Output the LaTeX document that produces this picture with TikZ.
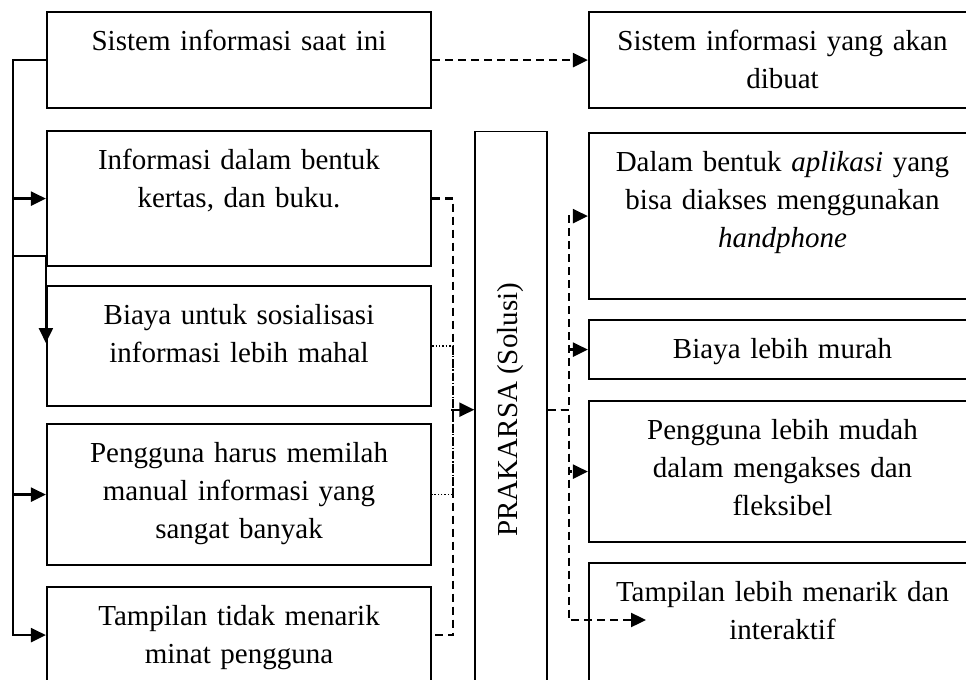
\documentclass[tikz,border=0pt]{standalone}
\usepackage{fontspec}
\setmainfont{Liberation Serif}
\usepackage{graphicx}
\usetikzlibrary{arrows.meta}

\begin{document}
\begin{tikzpicture}[x=0.5pt,y=-0.5pt,
  box/.style={draw,line width=1.1pt,anchor=north,inner sep=0pt,align=center,text height=19pt,font=\fontsize{14.5}{19}\selectfont},
  lbox/.style={box,text width=192pt},
  rbox/.style={box,text width=193.5pt},
  solbox/.style={draw,line width=0.7pt,anchor=north,inner sep=0pt,minimum width=36pt,minimum height=278pt,font=\fontsize{14.5}{19}\selectfont},
  arr/.style={line width=1.2pt,-{Triangle[length=7.5pt,width=7pt]}},
  dashln/.style={line width=1.2pt,dash pattern=on 4pt off 2.5pt},
  dotln/.style={line width=0.8pt,dash pattern=on 0.7pt off 1pt}]
\useasboundingbox (0,0) rectangle (966,680);
\clip (0,0) rectangle (966,680);
% sisi kiri
\node[lbox,text depth=29pt] (now) at (239,11) {Sistem informasi saat ini};
\node[lbox,text depth=48.5pt] (paper) at (239,130) {Informasi dalam bentuk\\kertas, dan buku.};
\node[lbox,text depth=41pt] (cost) at (239,285) {Biaya untuk sosialisasi\\informasi lebih mahal};
\node[lbox,text depth=51.5pt] (manual) at (239,423) {Pengguna harus memilah\\manual informasi yang\\sangat banyak};
\node[lbox,text depth=29pt] (dull) at (239,586) {Tampilan tidak menarik\\minat pengguna};
% tengah
\node[solbox] (solusi) at (511,131) {\rotatebox{90}{PRAKARSA (Solusi)}};
% sisi kanan
\node[rbox,text depth=29pt] (plan) at (782.5,11) {Sistem informasi yang akan\\dibuat};
\node[rbox,text depth=64pt] (app) at (782.5,132) {Dalam bentuk \textit{aplikasi} yang\\bisa diakses menggunakan\\\textit{handphone}};
\node[rbox,text depth=10.5pt] (cheap) at (782.5,319) {Biaya lebih murah};
\node[rbox,text depth=51.5pt] (easy) at (782.5,400) {Pengguna lebih mudah\\dalam mengakses dan\\fleksibel};
\node[rbox,text depth=46pt] (nice) at (782.5,562) {Tampilan lebih menarik dan\\interaktif};
% garis kiri
\draw[arr] (now.west) -- ++(-33,0) |- (paper.west);
\draw[arr] (now.west) -- ++(-33,0) |- (manual.west);
\draw[arr] (now.west) -- ++(-33,0) |- (dull.west);
\coordinate (split) at (14,256);
\draw[arr] (split) -| ([yshift=-29pt]cost.north west);
\draw[arr,dashln] (now.east) -- (plan.west);
\draw[dashln] (paper.east) -- ++(21,0) |- (dull.east);
\draw[dotln] (cost.east) -- ++(21,0) |- (manual.east);
\draw[arr] ([xshift=-11.5pt]solusi.west) -- (solusi.west);
% garis kanan
\coordinate (tip) at (646,620);
\draw[arr,dashln] (solusi.east) -- ++(21,0) |- (app.west);
\draw[arr,dashln] (solusi.east) -- ++(21,0) |- (cheap.west);
\draw[arr,dashln] (solusi.east) -- ++(21,0) |- (easy.west);
\draw[arr,dashln] (solusi.east) -- ++(21,0) |- (tip);
\end{tikzpicture}
\end{document}
